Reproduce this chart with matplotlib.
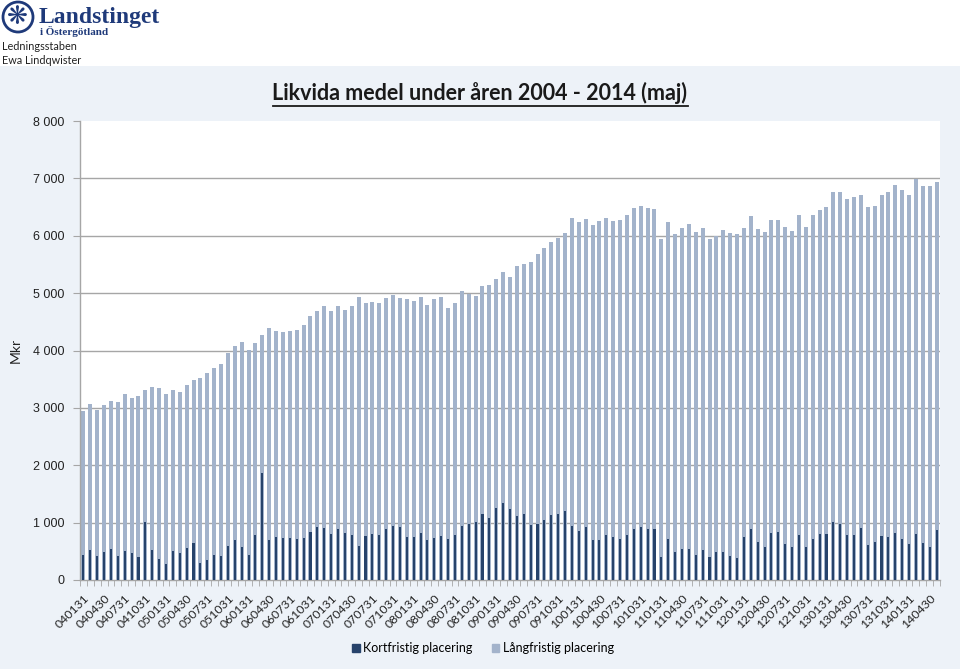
import matplotlib
matplotlib.use("Agg")
import matplotlib.pyplot as plt
from matplotlib.lines import Line2D
from matplotlib.patches import Rectangle, Ellipse

# ---------------- data ----------------
years = list(range(2004, 2015))
month_end = {1: 31, 2: 28, 3: 31, 4: 30, 5: 31, 6: 30, 7: 31, 8: 31, 9: 30, 10: 31, 11: 30, 12: 31}
categories = [f"{y % 100:02d}{m:02d}{month_end[m]:02d}" for y in years for m in range(1, 13)][:125]

kort = [444, 526, 421, 491, 532, 415, 509, 462, 398, 1006, 526, 368, 275, 497, 462, 556,
        649, 298, 351, 444, 421, 585, 690, 567, 433,
        792, 1870, 705, 751, 728, 740, 722, 728, 833, 926, 914, 804, 885, 827, 792, 600,
        775, 810, 792, 891, 938, 932, 745, 757, 821, 693, 740, 769, 711, 780, 944, 978,
        1013, 1147, 1083,
        1258, 1334, 1229, 1124, 1147, 955, 984, 1042, 1136, 1153, 1211, 938, 856, 920,
        699, 699, 786, 745, 722, 780, 885, 932, 885, 885, 408, 711, 495, 536, 547, 431,
        518, 396, 483, 489, 419, 384, 745, 885, 670, 571, 815, 839, 635, 571, 786, 577,
        722, 798, 798, 1019, 973, 780, 780, 909, 606, 658, 775, 757, 815, 711, 629, 810,
        641, 571, 868]

lang = [2953, 3070, 2965, 3058, 3117, 3100, 3234, 3175, 3205, 3304, 3357, 3345, 3246, 3310,
        3280, 3392, 3490, 3520, 3610, 3700, 3770, 3960, 4070, 4150, 4010,
        4128, 4268, 4384, 4338, 4314, 4332, 4355, 4437, 4594, 4693, 4769, 4693, 4775, 4699,
        4775, 4932, 4821, 4845, 4833, 4920, 4967, 4920, 4897, 4856, 4938, 4792, 4891, 4932,
        4734, 4821, 5037, 4990, 4949, 5118, 5136,
        5252, 5369, 5275, 5479, 5514, 5549, 5683, 5788, 5899, 5957, 6056, 6312, 6242, 6295,
        6184, 6260, 6306, 6260, 6277, 6353, 6481, 6510, 6481, 6470, 5940, 6236, 6038, 6143,
        6201, 6067,
        6131, 5945, 5992, 6102, 6050, 6033, 6143, 6341, 6114, 6062, 6277, 6283, 6161, 6091,
        6359, 6155, 6353, 6452, 6504, 6761, 6761, 6638, 6667, 6708, 6504, 6522, 6708, 6766,
        6889, 6795, 6714, 6994, 6860, 6860, 6941]

tick_labels = ["040131", "040430", "040731", "041031", "050131", "050430", "050731", "051031",
               "060131", "060430", "060731", "061031", "070131", "070430", "070731", "071031",
               "080131", "080430", "080731", "081031", "090131", "090430", "090731", "091031",
               "100131", "100430", "100731", "101031", "110131", "110430", "110731", "111031",
               "120131", "120430", "120731", "121031", "130131", "130430", "130731", "131031",
               "140131", "140430"]

series_names = ["Kortfristig placering", "Långfristig placering"]
y_ticks = [0, 1000, 2000, 3000, 4000, 5000, 6000, 7000, 8000]

# ---------------- style ----------------
W, H = 960, 669
BG = "#edf2f8"
DARK = "#27436b"
LIGHT = "#a3b3cb"
GRID = "#a6a6a6"
CAL = ["Lato", "DejaVu Sans"]

fig = plt.figure(figsize=(W / 100, H / 100), dpi=100)
fig.patch.set_facecolor(BG)

def px(x, y):
    return x / W, 1 - y / H

# white header band
fig.patches.append(Rectangle((0, 1 - 66 / H), 1, 66 / H, transform=fig.transFigure,
                             facecolor="white", edgecolor="none", zorder=0))

# logo emblem
fig.patches.append(Ellipse(px(18, 17), 30 / W, 30 / H, transform=fig.transFigure,
                           facecolor="white", edgecolor="#1f3a7a", lw=2, zorder=1))
fig.text(*px(18, 17.5), "❋", ha="center", va="center", fontsize=18, color="#1f3a7a",
         family=["DejaVu Sans"])
fig.text(*px(39, 17), "Landstinget", ha="left", va="center", fontsize=17, fontweight="bold",
         color="#1f3a7a", family=["Liberation Serif", "DejaVu Serif"])
fig.text(*px(40, 31.5), "i Östergötland", ha="left", va="center", fontsize=8, fontweight="bold",
         color="#1f3a7a", family=["Liberation Serif", "DejaVu Serif"])
fig.text(*px(2, 46.5), "Ledningsstaben", ha="left", va="center", fontsize=7.8, color="#222222",
         family=CAL)
fig.text(*px(2, 60.5), "Ewa Lindqwister", ha="left", va="center", fontsize=7.8, color="#222222",
         family=CAL)

# axes
left, right, top, bottom = 80, 940, 121, 580
ax = fig.add_axes([left / W, 1 - bottom / H, (right - left) / W, (bottom - top) / H])
ax.set_facecolor("white")

n = len(categories)
x = list(range(n))
ax.bar(x, lang, width=0.58, color=LIGHT, zorder=2, label=series_names[1])
ax.bar(x, kort, width=0.30, color=DARK, zorder=3, label=series_names[0])

ax.set_xlim(-0.5, n - 0.5)
ax.set_ylim(0, 8000)
for v in y_ticks[1:-1]:
    ax.axhline(v, color=GRID, lw=1.0, zorder=1)

for s in ["top", "right"]:
    ax.spines[s].set_visible(False)
ax.spines["left"].set_color(GRID)
ax.spines["bottom"].set_color(GRID)
ax.spines["left"].set_linewidth(1.0)
ax.spines["bottom"].set_linewidth(1.0)

ax.set_yticks(y_ticks)
ax.set_yticklabels([f"{v:,}".replace(",", " ") for v in y_ticks],
                   fontsize=9, family=["Liberation Sans", "DejaVu Sans"], color="#222222")
ax.tick_params(axis="y", length=5, color=GRID, pad=6)

ax.set_xticks(x[::3])
ax.set_xticklabels(tick_labels, rotation=45, ha="right", rotation_mode="anchor",
                   fontsize=8.8, family=CAL, color="#222222")
ax.tick_params(axis="x", which="major", length=0, pad=9)
ax.set_xticks([i - 0.5 for i in range(n + 1)], minor=True)
ax.tick_params(axis="x", which="minor", length=4, color=GRID)

ax.set_ylabel("Mkr", fontsize=10, family=CAL, color="#222222", labelpad=8)

# legend
handles = [Rectangle((0, 0), 1, 1, color=DARK), Rectangle((0, 0), 1, 1, color=LIGHT)]
fig.legend(handles, series_names, loc="center", bbox_to_anchor=px(483, 648), ncol=2,
           frameon=False, prop={"family": CAL, "size": 9},
           handlelength=0.6, handleheight=0.6, handletextpad=0.3, columnspacing=1.5)

# title with underline
title = fig.text(*px(480, 93), "Likvida medel under åren 2004 - 2014 (maj)", ha="center",
                 va="center", fontsize=15.5, fontweight="bold", color="#1a1a1a", family=CAL)
fig.canvas.draw()
bb = title.get_window_extent()
uy = (bb.y0 - 1.5) / H
fig.lines.append(Line2D([bb.x0 / W, bb.x1 / W], [uy, uy], transform=fig.transFigure,
                        color="#1a1a1a", lw=1.3))

fig.savefig("out.png", dpi=100, facecolor=fig.get_facecolor())
